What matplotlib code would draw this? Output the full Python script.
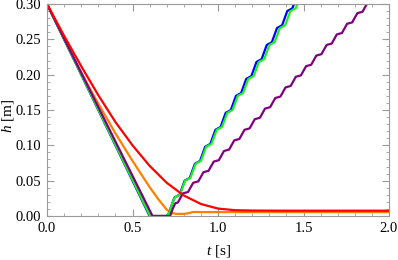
import numpy as np
import matplotlib
matplotlib.use("Agg")
import matplotlib.pyplot as plt
from matplotlib.ticker import MultipleLocator, FormatStrFormatter

plt.rcParams['font.family'] = ['Liberation Serif', 'DejaVu Serif']
plt.rcParams['mathtext.fontset'] = 'custom'
plt.rcParams['mathtext.rm'] = 'Liberation Serif'
plt.rcParams['mathtext.it'] = 'Liberation Serif:italic'

# ---------------- data ----------------
# falling parts (t [s], h [m])
blue_fall_t = [0.0, 0.600, 0.700]
blue_fall_h = [0.300, 0.000, 0.000]
green_fall_t = [0.0, 0.603, 0.700]
green_fall_h = [0.300, 0.000, 0.000]
purple_fall_t = [0.0, 0.617, 0.720]
purple_fall_h = [0.300, 0.000, 0.000]

# rising wavy parts: start time, sample step, values
blue_rise_t0, blue_rise_dt = 0.700, 0.015
blue_rise_h = [0.000, 0.005, 0.016, 0.026,
               0.028, 0.030, 0.040, 0.050,
               0.052, 0.054, 0.064, 0.074,
               0.076, 0.078, 0.088, 0.098,
               0.100, 0.102, 0.112, 0.122,
               0.124, 0.126, 0.136, 0.146,
               0.148, 0.150, 0.160, 0.170,
               0.172, 0.174, 0.184, 0.194,
               0.196, 0.198, 0.208, 0.218,
               0.220, 0.222, 0.232, 0.242,
               0.244, 0.246, 0.256, 0.266,
               0.268, 0.270, 0.280, 0.290,
               0.292, 0.294, 0.304, 0.314]

green_rise_t0, green_rise_dt = 0.700, 0.0154
green_rise_h = [0.000, 0.005, 0.016, 0.026,
                0.028, 0.030, 0.040, 0.050,
                0.052, 0.054, 0.064, 0.074,
                0.076, 0.078, 0.088, 0.098,
                0.100, 0.102, 0.112, 0.122,
                0.124, 0.126, 0.136, 0.146,
                0.148, 0.150, 0.160, 0.170,
                0.172, 0.174, 0.184, 0.194,
                0.196, 0.198, 0.208, 0.218,
                0.220, 0.222, 0.232, 0.242,
                0.244, 0.246, 0.256, 0.266,
                0.268, 0.270, 0.280, 0.290,
                0.292, 0.294, 0.304, 0.314]

purple_rise_t0, purple_rise_dt = 0.720, 0.015
purple_rise_h = [0.000, 0.010,
                 0.018, 0.019, 0.0255, 0.032,
                 0.033, 0.034, 0.0405, 0.047,
                 0.048, 0.049, 0.0555, 0.062,
                 0.063, 0.064, 0.0705, 0.077,
                 0.078, 0.079, 0.0855, 0.092,
                 0.093, 0.094, 0.1005, 0.107,
                 0.108, 0.109, 0.1155, 0.122,
                 0.123, 0.124, 0.1305, 0.137,
                 0.138, 0.139, 0.1455, 0.152,
                 0.153, 0.154, 0.1605, 0.167,
                 0.168, 0.169, 0.1755, 0.182,
                 0.183, 0.184, 0.1905, 0.197,
                 0.198, 0.199, 0.2055, 0.212,
                 0.213, 0.214, 0.2205, 0.227,
                 0.228, 0.229, 0.2355, 0.242,
                 0.243, 0.244, 0.2505, 0.257,
                 0.258, 0.259, 0.2655, 0.272,
                 0.273, 0.274, 0.2805, 0.287,
                 0.288, 0.289, 0.2955, 0.302,
                 0.303, 0.304, 0.3105]

orange_t = [0.0, 0.1, 0.2, 0.3, 0.4, 0.5, 0.6, 0.65, 0.70, 0.73, 0.76,
            0.80, 0.83, 0.85, 0.87, 0.90, 1.0, 2.0]
orange_h = [0.300, 0.250, 0.203, 0.159, 0.117, 0.078, 0.041, 0.024, 0.009,
            0.004, 0.003, 0.003, 0.004, 0.0055, 0.0058, 0.0055, 0.0055, 0.0055]

red_t = [0.0, 0.1, 0.2, 0.3, 0.4, 0.5, 0.6, 0.7, 0.8, 0.9, 1.0, 1.1, 1.2,
         1.4, 2.0]
red_h = [0.300, 0.255, 0.212, 0.171, 0.133, 0.100, 0.071, 0.047, 0.029,
         0.017, 0.0105, 0.0082, 0.0077, 0.0075, 0.0075]

x_ticks = [0.0, 0.5, 1.0, 1.5, 2.0]
y_ticks = [0.00, 0.05, 0.10, 0.15, 0.20, 0.25, 0.30]

colors = {'blue': (0, 0, 1), 'green': (0.1, 0.95, 0.1),
          'purple': (0.5, 0, 0.5), 'orange': (1, 0.5, 0), 'red': (1, 0, 0)}


def join(fall_t, fall_h, t0, dt, rise_h):
    rt = t0 + dt * np.arange(len(rise_h))
    return (np.concatenate([fall_t, rt]), np.concatenate([fall_h, rise_h]))


fig = plt.figure(figsize=(3.98, 2.60), dpi=100)
ax = fig.add_axes([47 / 398, 1 - 216 / 260, 342 / 398, 212 / 260])

lw = 1.6
ax.plot(orange_t, orange_h, color=colors['orange'], lw=lw)
bt, bh = join(blue_fall_t, blue_fall_h, blue_rise_t0, blue_rise_dt, blue_rise_h)
ax.plot(bt, bh, color=colors['blue'], lw=lw)
gt, gh = join(green_fall_t, green_fall_h, green_rise_t0, green_rise_dt, green_rise_h)
ax.plot(gt, gh, color=colors['green'], lw=lw)
pt, ph = join(purple_fall_t, purple_fall_h, purple_rise_t0, purple_rise_dt, purple_rise_h)
ax.plot(pt, ph, color=colors['purple'], lw=lw)
ax.plot(red_t, red_h, color=colors['red'], lw=lw)

ax.set_xlim(0, 2.0)
ax.set_ylim(0, 0.30)
ax.set_xticks(x_ticks)
ax.set_yticks(y_ticks)
ax.xaxis.set_major_formatter(FormatStrFormatter('%.1f'))
ax.yaxis.set_major_formatter(FormatStrFormatter('%.2f'))
ax.xaxis.set_minor_locator(MultipleLocator(0.1))
ax.yaxis.set_minor_locator(MultipleLocator(0.01))

frame_c = '#9a9a9a'
for s in ax.spines.values():
    s.set_color(frame_c)
    s.set_linewidth(0.8)
ax.tick_params(which='both', direction='in', top=True, right=True,
               color=frame_c, labelsize=10.5, labelcolor='black')
ax.tick_params(which='major', length=5, width=0.8, pad=4)
ax.tick_params(which='minor', length=2.5, width=0.6)

ax.set_xlabel(r'$t$ [s]', fontsize=11, labelpad=6)
ax.set_ylabel(r'$h$ [m]', fontsize=11)
ax.yaxis.set_label_coords(-0.092, 0.47)

fig.savefig('out.png', dpi=100)
